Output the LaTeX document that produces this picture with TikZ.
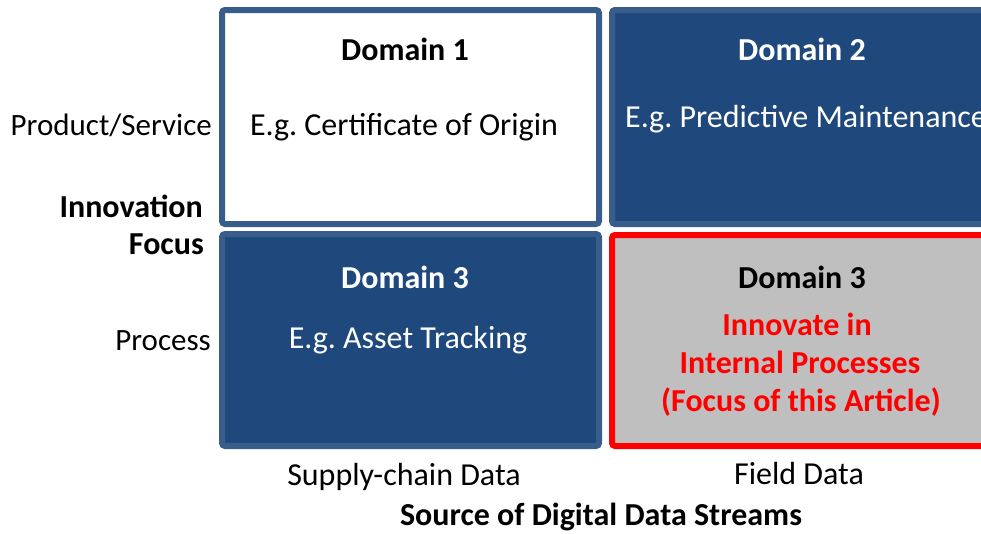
\documentclass[tikz,border=0pt]{standalone}
\usepackage{fontspec}
\setmainfont{Carlito}
\frenchspacing
\definecolor{navyfill}{HTML}{1F497D}
\definecolor{navyline}{HTML}{385D8A}
\definecolor{panelgray}{HTML}{BFBFBF}
\definecolor{alertred}{HTML}{FF0000}
\begin{document}
\begin{tikzpicture}[x=1pt,y=-1pt,
  panel/.style={rectangle, rounded corners=3pt, line width=6pt,
    inner sep=0pt, outer sep=0pt, draw=navyline},
  txt/.style={font=\fontsize{32}{38}\selectfont, inner sep=0pt, anchor=base},
  btxt/.style={txt, font=\fontsize{32}{38}\selectfont\bfseries},
  rtxt/.style={txt, anchor=base east, font=\fontsize{31}{37}\selectfont},
  brtxt/.style={btxt, anchor=base east}]
\useasboundingbox (0,0) rectangle (981,533);
\clip (0,0) rectangle (981,533);

% quadrant panels
\node[panel, fill=white, minimum width=377pt, minimum height=214pt] (d1) at (410.5,117) {};
\node[panel, fill=navyfill, minimum width=378pt, minimum height=214pt] (d2) at (801,117) {};
\node[panel, fill=navyfill, minimum width=377pt, minimum height=212pt] (d3) at (410.5,340) {};
\node[panel, fill=panelgray, draw=alertred, minimum width=378pt, minimum height=211pt] (d4) at (801,340.5) {};

% panel texts
\node[btxt] (d1title) at (405,60) {Domain 1};
\node[txt] (d1ex) at (404,135) {E.g. Certificate of Origin};
\node[btxt, text=white] (d2title) at (802,60) {Domain 2};
\node[txt, text=white, anchor=base west] (d2ex) at (625,127) {E.g. Predictive Maintenance};
\node[btxt, text=white] (d3title) at (405,288) {Domain 3};
\node[txt, text=white] (d3ex) at (408,348) {E.g. Asset Tracking};
\node[btxt] (d4title) at (802,288) {Domain 3};
\node[btxt, text=alertred] (d4a) at (797,335) {Innovate in};
\node[btxt, text=alertred] (d4b) at (800,373) {Internal Processes};
\node[btxt, text=alertred] (d4c) at (801,411) {(Focus of this Article)};

% vertical axis
\node[rtxt] (prod) at (212,135) {Product/Service};
\node[brtxt] (innov) at (203,217) {Innovation};
\node[brtxt] (focus) at (204,254) {Focus};
\node[rtxt] (proc) at (211,350) {Process};

% horizontal axis
\node[txt] (supply) at (404,485) {Supply-chain Data};
\node[txt] (field) at (799,484) {Field Data};
\node[btxt] (source) at (601,525) {Source of Digital Data Streams};
\end{tikzpicture}
\end{document}
